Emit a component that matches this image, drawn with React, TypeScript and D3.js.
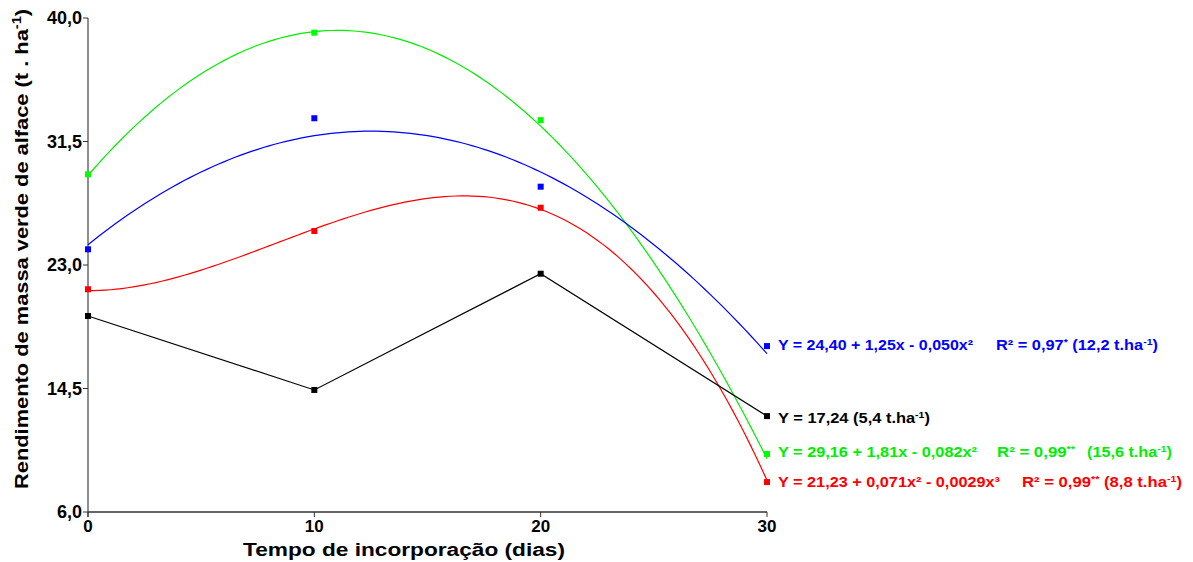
import React from "react";
import * as d3 from "d3";

// ---- data ----
const days = [0, 10, 20, 30];
const blueValues = [24.08, 33.1, 28.39, 17.42];
const greenValues = [29.24, 38.99, 32.97, 9.99];
const redValues = [21.33, 25.34, 26.94, 8.06];
const blackValues = [19.49, 14.4, 22.4, 12.6];
// regression coefficients (c0 + c1 x + c2 x^2 + c3 x^3)
const blueCoef = [24.4, 1.25, -0.05];
const greenCoef = [29.16, 1.81, -0.082];
const redCoef = [21.23, 0, 0.071, -0.00285];
const yTicks = [6, 14.5, 23, 31.5, 40];
const xTicks = [0, 10, 20, 30];
const yTickLabels = ["6,0", "14,5", "23,0", "31,5", "40,0"];

const blueEq = "Y = 24,40 + 1,25x - 0,050x²";
const blueR2 = ["R² = 0,97", "*", " (12,2 t.ha", "-1", ")"];
const blackEq = ["Y = 17,24 (5,4 t.ha", "-1", ")"];
const greenEq = "Y = 29,16 + 1,81x - 0,082x²";
const greenR2 = ["R² = 0,99", "**"];
const greenYield = ["(15,6 t.ha", "-1", ")"];
const redEq = "Y = 21,23 + 0,071x² - 0,0029x³";
const redR2 = ["R² = 0,99", "**", " (8,8 t.ha", "-1", ")"];

const BLUE = "#0000ff";
const GREEN = "#00ee00";
const RED = "#ff0000";
const BLACK = "#000000";
const FONT = "'Liberation Sans', Arial, sans-serif";

const x = d3.scaleLinear().domain([0, 30]).range([88, 767]);
const y = d3.scaleLinear().domain([6, 40]).range([512, 18]);

const poly = (c: number[]) => (t: number) =>
  c.reduce((s, ci, i) => s + ci * Math.pow(t, i), 0);

const grid = d3.range(0, 30.001, 0.25);
const fitPath = (c: number[]) => {
  const f = poly(c);
  return d3
    .line<number>()
    .x((d) => x(d))
    .y((d) => y(f(d)))(grid) as string;
};
const obsLine = d3
  .line<number>()
  .x((_, i) => x(days[i]))
  .y((d) => y(d));

function Markers({ values, color }: { values: number[]; color: string }) {
  return (
    <g>
      {values.map((v, i) => (
        <rect
          key={i}
          x={x(days[i]) - 3}
          y={y(v) - 3}
          width={6}
          height={6}
          fill={color}
        />
      ))}
    </g>
  );
}

export default function App() {
  const lx = x(30) + 11;
  return (
    <svg
      width={1193}
      height={562}
      style={{ position: "absolute", left: 0, top: 0, background: "#fff" }}
      fontFamily={FONT}
    >
      <rect width={1193} height={562} fill="#fff" />
      {/* axes */}
      <line x1={x(0)} x2={x(0)} y1={y(40)} y2={y(6) + 5} stroke="#6a6a6a" strokeWidth={1.5} />
      <line x1={x(0)} x2={x(30)} y1={y(6)} y2={y(6)} stroke="#333" strokeWidth={1.5} />
      {yTicks.map((t, i) => (
        <g key={t}>
          <line x1={x(0) - 5} x2={x(0)} y1={y(t)} y2={y(t)} stroke="#333" />
          <text
            x={x(0) - 6}
            y={y(t)}
            dy="0.35em"
            textAnchor="end"
            fontSize={18}
            fontWeight="bold"
          >
            {yTickLabels[i]}
          </text>
        </g>
      ))}
      {xTicks.map((t) => (
        <g key={t}>
          <line x1={x(t)} x2={x(t)} y1={y(6)} y2={y(6) + 5} stroke="#333" />
          <text
            x={x(t)}
            y={y(6) + 14}
            dy="0.35em"
            textAnchor="middle"
            fontSize={17}
            fontWeight="bold"
          >
            {t}
          </text>
        </g>
      ))}
      <text
        x={404}
        y={556}
        textAnchor="middle"
        fontSize={18}
        fontWeight="bold"
        textLength={322}
        lengthAdjust="spacingAndGlyphs"
      >
        Tempo de incorporação (dias)
      </text>
      <text
        transform="translate(28,249) rotate(-90)"
        textAnchor="middle"
        fontSize={18}
        fontWeight="bold"
        textLength={480}
        lengthAdjust="spacingAndGlyphs"
      >
        Rendimento de massa verde de alface (t . ha
        <tspan fontSize={12} dy={-7}>-1</tspan>
        <tspan dy={7}>)</tspan>
      </text>

      {/* fitted curves and observed */}
      <path d={fitPath(greenCoef)} fill="none" stroke={GREEN} strokeWidth={1.2} />
      <path d={fitPath(blueCoef)} fill="none" stroke={BLUE} strokeWidth={1.2} />
      <path d={fitPath(redCoef)} fill="none" stroke={RED} strokeWidth={1.2} />
      <path d={obsLine(blackValues) as string} fill="none" stroke={BLACK} strokeWidth={1.2} />
      <Markers values={greenValues} color={"#00ff00"} />
      <Markers values={blueValues} color={BLUE} />
      <Markers values={redValues} color={RED} />
      <Markers values={blackValues} color={BLACK} />

      {/* legend texts */}
      <g fontSize={14} fontWeight="bold">
        <text x={lx} y={350} fill={BLUE} textLength={195} lengthAdjust="spacingAndGlyphs">
          {blueEq}
        </text>
        <text x={996} y={350} fill={BLUE} textLength={162} lengthAdjust="spacingAndGlyphs">
          {blueR2[0]}
          <tspan fontSize={9} dy={-5}>{blueR2[1]}</tspan>
          <tspan dy={5}>{blueR2[2]}</tspan>
          <tspan fontSize={9} dy={-5}>{blueR2[3]}</tspan>
          <tspan dy={5}>{blueR2[4]}</tspan>
        </text>
        <text x={lx} y={423} fill={BLACK} textLength={152} lengthAdjust="spacingAndGlyphs">
          {blackEq[0]}
          <tspan fontSize={9} dy={-5}>{blackEq[1]}</tspan>
          <tspan dy={5}>{blackEq[2]}</tspan>
        </text>
        <text x={lx} y={457} fill={GREEN} textLength={199} lengthAdjust="spacingAndGlyphs">
          {greenEq}
        </text>
        <text x={997} y={457} fill={GREEN} textLength={78} lengthAdjust="spacingAndGlyphs">
          {greenR2[0]}
          <tspan fontSize={9} dy={-5}>{greenR2[1]}</tspan>
        </text>
        <text x={1087} y={457} fill={GREEN} textLength={85} lengthAdjust="spacingAndGlyphs">
          {greenYield[0]}
          <tspan fontSize={9} dy={-5}>{greenYield[1]}</tspan>
          <tspan dy={5}>{greenYield[2]}</tspan>
        </text>
        <text x={lx} y={487} fill={RED} textLength={222} lengthAdjust="spacingAndGlyphs">
          {redEq}
        </text>
        <text x={1022} y={487} fill={RED} textLength={160} lengthAdjust="spacingAndGlyphs">
          {redR2[0]}
          <tspan fontSize={9} dy={-5}>{redR2[1]}</tspan>
          <tspan dy={5}>{redR2[2]}</tspan>
          <tspan fontSize={9} dy={-5}>{redR2[3]}</tspan>
          <tspan dy={5}>{redR2[4]}</tspan>
        </text>
      </g>
    </svg>
  );
}
